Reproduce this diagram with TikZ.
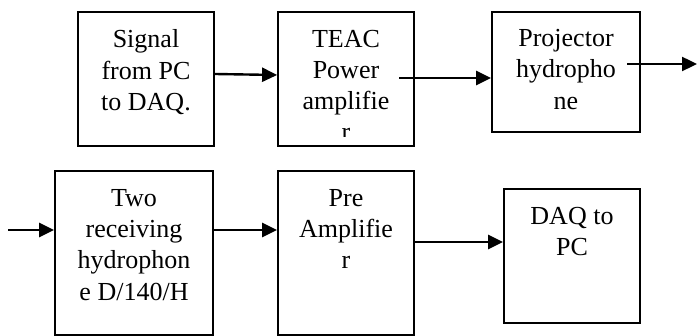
\documentclass[tikz,border=0pt]{standalone}
\usepackage{fontspec}
\setmainfont{Liberation Serif}
\usetikzlibrary{arrows.meta,positioning}
\begin{document}
\begin{tikzpicture}[x=1pt,y=-1pt,
  blok/.style={draw,line width=1.8pt,inner sep=0pt},
  lbl/.style={font=\fontsize{26}{31.3}\selectfont,align=center,inner sep=0pt},
  flow/.style={line width=2.4pt,-{Triangle[length=15pt,width=14pt]}}]
  \useasboundingbox (0,0) rectangle (697,336);
  % top row
  \node[blok,minimum width=136pt,minimum height=134pt] (sig) at (146,79) {};
  \node[blok,minimum width=136pt,minimum height=134pt] (teac) at (346,79) {};
  \node[blok,minimum width=148pt,minimum height=120pt] (proj) at (566,72) {};
  \node[lbl,below=18.5pt of sig.north] (sigtxt) {Signal\\from PC\\to DAQ.};
  \begin{scope}
    \clip (teac.north west) rectangle ([yshift=10pt]teac.south east);
    \node[lbl,below=18.5pt of teac.north] (teactxt) {TEAC\\Power\\amplifie\\r};
  \end{scope}
  \node[lbl,below=18pt of proj.north] (projtxt) {Projector\\hydropho\\ne};
  % bottom row
  \node[blok,minimum width=158pt,minimum height=164pt] (recv) at (134,253) {};
  \node[blok,minimum width=136pt,minimum height=164pt] (pre) at (346,253) {};
  \node[blok,minimum width=136pt,minimum height=134pt] (daq) at (572,256) {};
  \node[lbl,below=19pt of recv.north] (recvtxt) {Two\\receiving\\hydrophon\\e D/140/H};
  \node[lbl,below=19pt of pre.north] (pretxt) {Pre\\Amplifie\\r};
  \node[lbl,below=19pt of daq.north] (daqtxt) {DAQ to\\PC};
  % connectors
  \coordinate (teacout) at (399,78);
  \coordinate (projout) at (627,64);
  \coordinate (outend) at (697,64);
  \coordinate (instart) at (8,230);
  \draw[flow] ([yshift=5pt]sig.east) -- ([yshift=4pt]teac.west);
  \draw[flow] (teacout) -- (teacout -| proj.west);
  \draw[flow] (projout) -- (outend);
  \draw[flow] (instart) -- (instart -| recv.west);
  \draw[flow] ([yshift=23pt]recv.east) -- ([yshift=23pt]pre.west);
  \draw[flow] ([yshift=11pt]pre.east) -- ([yshift=14pt]daq.west);
\end{tikzpicture}
\end{document}
